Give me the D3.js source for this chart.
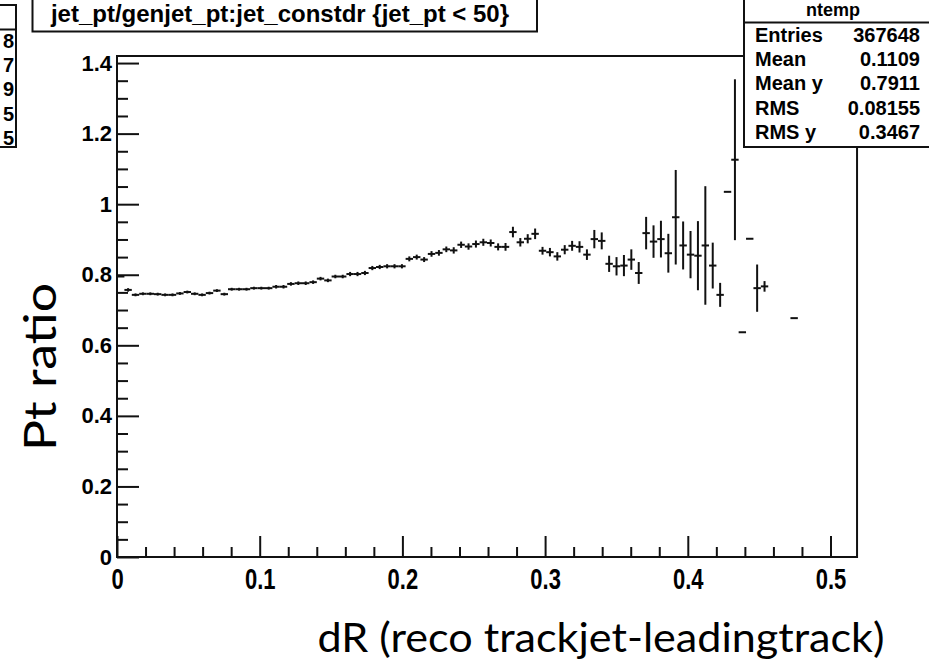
<!DOCTYPE html>
<html>
<head>
<meta charset="utf-8">
<script src="https://cdn.jsdelivr.net/npm/d3@7"></script>
<style>
  html, body { margin: 0; padding: 0; background: #fff; }
  svg { display: block; }
</style>
</head>
<body>
<svg id="chart" width="929" height="665"></svg>
<script>
// ---------------- data ----------------
// histogram binning of the profile (x axis)
const xBinLow = 0, xBinHigh = 0.5186, nBins = 100;
// mean Pt ratio in each bin (null = empty bin)
const ratioValues = [
  0.795, 0.757, 0.743, 0.746, 0.746, 0.745, 0.743, 0.743, 0.747, 0.751,
  0.746, 0.743, 0.748, 0.755, 0.745, 0.759, 0.759, 0.759, 0.762, 0.762,
  0.762, 0.766, 0.766, 0.774, 0.776, 0.776, 0.779, 0.789, 0.784, 0.795,
  0.795, 0.802, 0.802, 0.805, 0.819, 0.822, 0.824, 0.824, 0.824, 0.845,
  0.850, 0.843, 0.859, 0.862, 0.872, 0.869, 0.885, 0.880, 0.887, 0.892,
  0.890, 0.879, 0.879, 0.921, 0.892, 0.902, 0.916, 0.868, 0.864, 0.852,
  0.871, 0.882, 0.879, 0.857, 0.901, 0.896, 0.831, 0.824, 0.826, 0.843,
  0.805, 0.918, 0.894, 0.901, 0.861, 0.963, 0.883, 0.857, 0.854, 0.883,
  0.826, 0.743, 1.035, 1.126, 0.637, 0.902, 0.762, 0.767, null, null,
  null, 0.677
];
// error on the mean in each bin
const ratioErrors = [
  0.000, 0.005, 0.004, 0.004, 0.004, 0.004, 0.004, 0.004, 0.004, 0.004,
  0.004, 0.004, 0.004, 0.004, 0.004, 0.004, 0.004, 0.004, 0.004, 0.004,
  0.004, 0.005, 0.005, 0.005, 0.005, 0.005, 0.005, 0.005, 0.005, 0.005,
  0.005, 0.006, 0.006, 0.006, 0.006, 0.006, 0.006, 0.006, 0.006, 0.007,
  0.007, 0.007, 0.008, 0.008, 0.008, 0.009, 0.009, 0.009, 0.010, 0.010,
  0.010, 0.010, 0.011, 0.015, 0.012, 0.013, 0.015, 0.011, 0.012, 0.012,
  0.013, 0.014, 0.016, 0.015, 0.026, 0.024, 0.023, 0.026, 0.030, 0.029,
  0.031, 0.046, 0.046, 0.052, 0.055, 0.134, 0.068, 0.067, 0.098, 0.168,
  0.065, 0.034, 0.000, 0.228, 0.000, 0.000, 0.067, 0.015, null, null,
  null, 0.000
];
// axis ticks and labels
const xMajorTicks = [0, 0.1, 0.2, 0.3, 0.4, 0.5];
const xTickLabels = ["0", "0.1", "0.2", "0.3", "0.4", "0.5"];
const xMinorTicks = [0.02,0.04,0.06,0.08,0.12,0.14,0.16,0.18,0.22,0.24,0.26,0.28,0.32,0.34,0.36,0.38,0.42,0.44,0.46,0.48];
const yMajorTicks = [0, 0.2, 0.4, 0.6, 0.8, 1.0, 1.2, 1.4];
const yTickLabels = ["0", "0.2", "0.4", "0.6", "0.8", "1", "1.2", "1.4"];
const yMinorTicks = [0.05,0.1,0.15,0.25,0.3,0.35,0.45,0.5,0.55,0.65,0.7,0.75,0.85,0.9,0.95,1.05,1.1,1.15,1.25,1.3,1.35];
const yMax = 1.42;
// texts
const titleText = "jet_pt/genjet_pt:jet_constdr {jet_pt < 50}";
const statsName = "ntemp";
const statsLabels = ["Entries", "Mean", "Mean y", "RMS", "RMS y"];
const statsValues = ["367648", "0.1109", "0.7911", "0.08155", "0.3467"];
const leftBoxDigits = ["8", "7", "9", "5", "5"];
const xTitle = "dR (reco trackjet-leadingtrack)";
const yTitle = "Pt ratio";

// ---------------- drawing ----------------
const svg = d3.select("#chart");
const frame = { left: 117, top: 56, bottom: 557 };
frame.right = frame.left + (xBinHigh - xBinLow) * 1427;

const x = d3.scaleLinear().domain([xBinLow, xBinHigh]).range([frame.left, frame.right]);
const y = d3.scaleLinear().domain([0, yMax]).range([frame.bottom, frame.top]);

const ink = "#111";
const labelFont = "'Liberation Sans', Arial, Helvetica, sans-serif";

// frame
svg.append("rect")
  .attr("x", frame.left).attr("y", frame.top)
  .attr("width", frame.right - frame.left).attr("height", frame.bottom - frame.top)
  .attr("fill", "none").attr("stroke", ink).attr("stroke-width", 2);

// x axis (ticks pointing into the frame)
const gx = svg.append("g").attr("transform", `translate(0,${frame.bottom})`);
gx.call(d3.axisBottom(x).tickValues(xMajorTicks).tickSize(-21).tickPadding(8)
  .tickFormat((d, i) => xTickLabels[i]));
const gxm = svg.append("g").attr("transform", `translate(0,${frame.bottom})`);
gxm.call(d3.axisBottom(x).tickValues(xMinorTicks).tickSize(-10).tickFormat(""));

// y axis
const gy = svg.append("g").attr("transform", `translate(${frame.left},0)`);
gy.call(d3.axisLeft(y).tickValues(yMajorTicks).tickSize(-22).tickPadding(5)
  .tickFormat((d, i) => yTickLabels[i]));
const gym = svg.append("g").attr("transform", `translate(${frame.left},0)`);
gym.call(d3.axisLeft(y).tickValues(yMinorTicks).tickSize(-11).tickFormat(""));

[gx, gxm, gy, gym].forEach(g => {
  g.select(".domain").remove();
  g.selectAll(".tick line").attr("stroke", ink).attr("stroke-width", 2);
  g.selectAll(".tick text").attr("fill", "#000")
    .style("font-family", labelFont).style("font-weight", "bold").style("font-size", "22px");
});
// x labels are drawn taller (stretched vertically) in the original
gx.selectAll(".tick text").attr("dy", "0.71em").attr("transform", "scale(1,1.35)");

// data: profile points with error bars
const bw = (xBinHigh - xBinLow) / nBins;
const pts = ratioValues.map((v, i) => ({
  lo: xBinLow + i * bw, hi: xBinLow + (i + 1) * bw, c: xBinLow + (i + 0.5) * bw,
  v: v, e: ratioErrors[i]
})).filter(d => d.v !== null);

const gData = svg.append("g").attr("stroke", ink).attr("stroke-width", 2).attr("fill", "none");
gData.selectAll("line.h").data(pts).join("line").attr("class", "h")
  .attr("x1", d => x(d.lo)).attr("x2", d => x(d.hi))
  .attr("y1", d => y(d.v)).attr("y2", d => y(d.v));
gData.selectAll("line.v").data(pts.filter(d => d.e > 0)).join("line").attr("class", "v")
  .attr("x1", d => x(d.c)).attr("x2", d => x(d.c))
  .attr("y1", d => y(d.v - d.e)).attr("y2", d => y(d.v + d.e));

// title box
svg.append("path")
  .attr("d", "M32.5,-2 V31.5 H537 V-2")
  .attr("fill", "#fff").attr("stroke", ink).attr("stroke-width", 2);
svg.append("text").attr("x", 280).attr("y", 22).attr("text-anchor", "middle")
  .style("font-family", labelFont).style("font-weight", "bold").style("font-size", "24px")
  .text(titleText);

// stats box (top right)
svg.append("rect").attr("x", 744).attr("y", -5).attr("width", 200).attr("height", 152)
  .attr("fill", "#fff").attr("stroke", ink).attr("stroke-width", 2);
svg.append("line").attr("x1", 744).attr("x2", 940).attr("y1", 22.5).attr("y2", 22.5)
  .attr("stroke", ink).attr("stroke-width", 2);
svg.append("text").attr("x", 833).attr("y", 16).attr("text-anchor", "middle")
  .style("font-family", labelFont).style("font-weight", "bold").style("font-size", "18px")
  .text(statsName);
const rowY = [42, 66, 90, 115, 139];
statsLabels.forEach((s, i) => {
  svg.append("text").attr("x", 755).attr("y", rowY[i])
    .style("font-family", labelFont).style("font-weight", "bold").style("font-size", "20px")
    .text(s);
  svg.append("text").attr("x", 920).attr("y", rowY[i]).attr("text-anchor", "end")
    .style("font-family", labelFont).style("font-weight", "bold").style("font-size", "20px")
    .text(statsValues[i]);
});

// partial stats box at the far left
svg.append("path").attr("d", "M-5,5 H16 V147 H-5").attr("fill", "#fff")
  .attr("stroke", ink).attr("stroke-width", 2);
svg.append("line").attr("x1", -5).attr("x2", 16).attr("y1", 29.5).attr("y2", 29.5)
  .attr("stroke", ink).attr("stroke-width", 2);
leftBoxDigits.forEach((s, i) => {
  svg.append("text").attr("x", 14).attr("y", rowY[i] + 6).attr("text-anchor", "end")
    .style("font-family", labelFont).style("font-weight", "bold").style("font-size", "20px")
    .text(s);
});

// axis titles
svg.append("text").attr("x", 601).attr("y", 652).attr("text-anchor", "middle")
  .attr("textLength", 567).attr("lengthAdjust", "spacingAndGlyphs")
  .style("font-family", "Lato, 'Open Sans', sans-serif").style("font-size", "40px")
  .attr("fill", "#000").text(xTitle);
svg.append("text").attr("transform", "translate(56,367) rotate(-90)").attr("text-anchor", "middle")
  .attr("textLength", 168).attr("lengthAdjust", "spacingAndGlyphs")
  .style("font-family", "Lato, 'Open Sans', sans-serif").style("font-size", "44px")
  .attr("fill", "#000").text(yTitle);
</script>
</body>
</html>
